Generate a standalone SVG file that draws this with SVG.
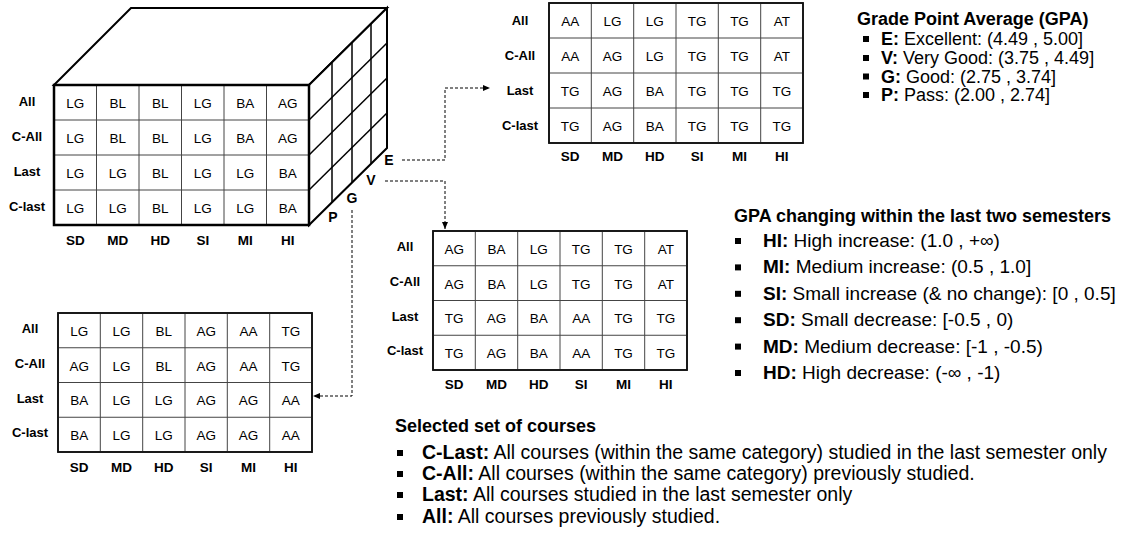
<svg xmlns="http://www.w3.org/2000/svg" width="1124" height="541" viewBox="0 0 1124 541">
<defs>
<marker id="arr" markerWidth="8" markerHeight="8" refX="7" refY="4" orient="auto" markerUnits="userSpaceOnUse">
<path d="M0,1 L7,4 L0,7 Z" fill="#000"/>
</marker>
<style>
text{font-family:"Liberation Sans",Arial,sans-serif;fill:#000}
.c{font-size:13.5px;text-anchor:middle}
.l{font-size:13px;font-weight:bold;text-anchor:middle}
.h{font-size:13.5px;font-weight:bold;text-anchor:middle}
.d{font-size:14px;font-weight:bold;text-anchor:middle}
.t{font-size:18px;font-weight:bold}
.i{font-size:19px}
.g{font-size:18px}
.s{font-size:19.5px}
.b{font-weight:bold}
.outer{fill:#fff;stroke:#111;stroke-width:1.6}
.inner{stroke:#444;stroke-width:1;fill:none}
.thick{fill:none;stroke:#000;stroke-width:2.5;stroke-linejoin:miter}
.face{fill:#fff;stroke:#000;stroke-width:2;stroke-linejoin:miter}
.rf{stroke:#000;stroke-width:1.5;fill:none}
.dash{fill:none;stroke:#000;stroke-width:1;stroke-dasharray:3,2}
.bul{fill:#000}
</style>
</defs>

<g id="cube">
<polygon class="face" points="54,85 131,8 387,8 309,85"/>
<polygon class="face" points="309,85 387,8 387,148 309,225"/>
<g class="rf">
<line x1="309" y1="120" x2="387" y2="43"/>
<line x1="309" y1="155" x2="387" y2="78"/>
<line x1="309" y1="190" x2="387" y2="113"/>
<line x1="332" y1="62.3" x2="332" y2="202.3"/>
<line x1="352" y1="42.6" x2="352" y2="182.6"/>
<line x1="371" y1="23.8" x2="371" y2="163.8"/>
</g>
<rect x="54" y="85" width="255" height="140" fill="#fff"/>
<g class="inner">
<line x1="96.5" y1="85" x2="96.5" y2="225"/><line x1="139" y1="85" x2="139" y2="225"/><line x1="181.5" y1="85" x2="181.5" y2="225"/><line x1="224" y1="85" x2="224" y2="225"/><line x1="266.5" y1="85" x2="266.5" y2="225"/>
<line x1="54" y1="120" x2="309" y2="120"/><line x1="54" y1="155" x2="309" y2="155"/><line x1="54" y1="190" x2="309" y2="190"/>
</g>
<rect class="thick" x="54" y="85" width="255" height="140"/>
<text class="l" x="27" y="106">All</text><text class="l" x="27" y="141">C-All</text><text class="l" x="27" y="176">Last</text><text class="l" x="27" y="211">C-last</text>
<text class="c" x="75.3" y="108">LG</text><text class="c" x="117.8" y="108">BL</text><text class="c" x="160.3" y="108">BL</text><text class="c" x="202.8" y="108">LG</text><text class="c" x="245.3" y="108">BA</text><text class="c" x="287.8" y="108">AG</text>
<text class="c" x="75.3" y="143">LG</text><text class="c" x="117.8" y="143">BL</text><text class="c" x="160.3" y="143">BL</text><text class="c" x="202.8" y="143">LG</text><text class="c" x="245.3" y="143">BA</text><text class="c" x="287.8" y="143">AG</text>
<text class="c" x="75.3" y="178">LG</text><text class="c" x="117.8" y="178">LG</text><text class="c" x="160.3" y="178">BL</text><text class="c" x="202.8" y="178">LG</text><text class="c" x="245.3" y="178">LG</text><text class="c" x="287.8" y="178">BA</text>
<text class="c" x="75.3" y="213">LG</text><text class="c" x="117.8" y="213">LG</text><text class="c" x="160.3" y="213">BL</text><text class="c" x="202.8" y="213">LG</text><text class="c" x="245.3" y="213">LG</text><text class="c" x="287.8" y="213">BA</text>
<text class="h" x="75.3" y="245">SD</text><text class="h" x="117.8" y="245">MD</text><text class="h" x="160.3" y="245">HD</text><text class="h" x="202.8" y="245">SI</text><text class="h" x="245.3" y="245">MI</text><text class="h" x="287.8" y="245">HI</text>
<text class="d" x="389" y="165">E</text><text class="d" x="371" y="185">V</text><text class="d" x="352" y="203">G</text><text class="d" x="333" y="222">P</text>
</g>

<g id="table-E">
<rect class="outer" x="549" y="3" width="254" height="140"/>
<g class="inner">
<line x1="591.3" y1="3" x2="591.3" y2="143"/><line x1="633.7" y1="3" x2="633.7" y2="143"/><line x1="676" y1="3" x2="676" y2="143"/><line x1="718.3" y1="3" x2="718.3" y2="143"/><line x1="760.7" y1="3" x2="760.7" y2="143"/>
<line x1="549" y1="38" x2="803" y2="38"/><line x1="549" y1="73" x2="803" y2="73"/><line x1="549" y1="108" x2="803" y2="108"/>
</g>
<rect x="549" y="3" width="254" height="140" fill="none" stroke="#111" stroke-width="1.6"/>
<text class="l" x="520" y="25">All</text><text class="l" x="520" y="60">C-All</text><text class="l" x="520" y="95">Last</text><text class="l" x="520" y="130">C-last</text>
<text class="c" x="570.2" y="26">AA</text><text class="c" x="612.5" y="26">LG</text><text class="c" x="654.8" y="26">LG</text><text class="c" x="697.2" y="26">TG</text><text class="c" x="739.5" y="26">TG</text><text class="c" x="781.8" y="26">AT</text>
<text class="c" x="570.2" y="61">AA</text><text class="c" x="612.5" y="61">AG</text><text class="c" x="654.8" y="61">LG</text><text class="c" x="697.2" y="61">TG</text><text class="c" x="739.5" y="61">TG</text><text class="c" x="781.8" y="61">AT</text>
<text class="c" x="570.2" y="96">TG</text><text class="c" x="612.5" y="96">AG</text><text class="c" x="654.8" y="96">BA</text><text class="c" x="697.2" y="96">TG</text><text class="c" x="739.5" y="96">TG</text><text class="c" x="781.8" y="96">TG</text>
<text class="c" x="570.2" y="131">TG</text><text class="c" x="612.5" y="131">AG</text><text class="c" x="654.8" y="131">BA</text><text class="c" x="697.2" y="131">TG</text><text class="c" x="739.5" y="131">TG</text><text class="c" x="781.8" y="131">TG</text>
<text class="h" x="570.2" y="161">SD</text><text class="h" x="612.5" y="161">MD</text><text class="h" x="654.8" y="161">HD</text><text class="h" x="697.2" y="161">SI</text><text class="h" x="739.5" y="161">MI</text><text class="h" x="781.8" y="161">HI</text>
</g>

<g id="table-V">
<rect class="outer" x="433" y="231" width="254" height="139"/>
<g class="inner">
<line x1="475.3" y1="231" x2="475.3" y2="370"/><line x1="517.7" y1="231" x2="517.7" y2="370"/><line x1="560" y1="231" x2="560" y2="370"/><line x1="602.3" y1="231" x2="602.3" y2="370"/><line x1="644.7" y1="231" x2="644.7" y2="370"/>
<line x1="433" y1="265.75" x2="687" y2="265.75"/><line x1="433" y1="300.5" x2="687" y2="300.5"/><line x1="433" y1="335.25" x2="687" y2="335.25"/>
</g>
<rect x="433" y="231" width="254" height="139" fill="none" stroke="#111" stroke-width="1.6"/>
<text class="l" x="405" y="251">All</text><text class="l" x="405" y="286">C-All</text><text class="l" x="405" y="321">Last</text><text class="l" x="405" y="355">C-last</text>
<text class="c" x="454.2" y="254">AG</text><text class="c" x="496.5" y="254">BA</text><text class="c" x="538.8" y="254">LG</text><text class="c" x="581.2" y="254">TG</text><text class="c" x="623.5" y="254">TG</text><text class="c" x="665.8" y="254">AT</text>
<text class="c" x="454.2" y="288.6">AG</text><text class="c" x="496.5" y="288.6">BA</text><text class="c" x="538.8" y="288.6">LG</text><text class="c" x="581.2" y="288.6">TG</text><text class="c" x="623.5" y="288.6">TG</text><text class="c" x="665.8" y="288.6">AT</text>
<text class="c" x="454.2" y="323.4">TG</text><text class="c" x="496.5" y="323.4">AG</text><text class="c" x="538.8" y="323.4">BA</text><text class="c" x="581.2" y="323.4">AA</text><text class="c" x="623.5" y="323.4">TG</text><text class="c" x="665.8" y="323.4">TG</text>
<text class="c" x="454.2" y="358.1">TG</text><text class="c" x="496.5" y="358.1">AG</text><text class="c" x="538.8" y="358.1">BA</text><text class="c" x="581.2" y="358.1">AA</text><text class="c" x="623.5" y="358.1">TG</text><text class="c" x="665.8" y="358.1">TG</text>
<text class="h" x="454.2" y="389">SD</text><text class="h" x="496.5" y="389">MD</text><text class="h" x="538.8" y="389">HD</text><text class="h" x="581.2" y="389">SI</text><text class="h" x="623.5" y="389">MI</text><text class="h" x="665.8" y="389">HI</text>
</g>

<g id="table-G">
<rect class="outer" x="58" y="313" width="254" height="139"/>
<g class="inner">
<line x1="100.3" y1="313" x2="100.3" y2="452"/><line x1="142.7" y1="313" x2="142.7" y2="452"/><line x1="185" y1="313" x2="185" y2="452"/><line x1="227.3" y1="313" x2="227.3" y2="452"/><line x1="269.7" y1="313" x2="269.7" y2="452"/>
<line x1="58" y1="347.75" x2="312" y2="347.75"/><line x1="58" y1="382.5" x2="312" y2="382.5"/><line x1="58" y1="417.25" x2="312" y2="417.25"/>
</g>
<rect x="58" y="313" width="254" height="139" fill="none" stroke="#111" stroke-width="1.6"/>
<text class="l" x="30" y="333">All</text><text class="l" x="30" y="368">C-All</text><text class="l" x="30" y="403">Last</text><text class="l" x="30" y="437">C-last</text>
<text class="c" x="79.2" y="336">LG</text><text class="c" x="121.5" y="336">LG</text><text class="c" x="163.8" y="336">BL</text><text class="c" x="206.2" y="336">AG</text><text class="c" x="248.5" y="336">AA</text><text class="c" x="290.8" y="336">TG</text>
<text class="c" x="79.2" y="370.6">AG</text><text class="c" x="121.5" y="370.6">LG</text><text class="c" x="163.8" y="370.6">BL</text><text class="c" x="206.2" y="370.6">AG</text><text class="c" x="248.5" y="370.6">AA</text><text class="c" x="290.8" y="370.6">TG</text>
<text class="c" x="79.2" y="405.4">BA</text><text class="c" x="121.5" y="405.4">LG</text><text class="c" x="163.8" y="405.4">LG</text><text class="c" x="206.2" y="405.4">AG</text><text class="c" x="248.5" y="405.4">AG</text><text class="c" x="290.8" y="405.4">AA</text>
<text class="c" x="79.2" y="440.1">BA</text><text class="c" x="121.5" y="440.1">LG</text><text class="c" x="163.8" y="440.1">LG</text><text class="c" x="206.2" y="440.1">AG</text><text class="c" x="248.5" y="440.1">AG</text><text class="c" x="290.8" y="440.1">AA</text>
<text class="h" x="79.2" y="472">SD</text><text class="h" x="121.5" y="472">MD</text><text class="h" x="163.8" y="472">HD</text><text class="h" x="206.2" y="472">SI</text><text class="h" x="248.5" y="472">MI</text><text class="h" x="290.8" y="472">HI</text>
</g>

<g id="connectors">
<path class="dash" d="M402,160 H445 V88 H490" marker-end="url(#arr)"/>
<path class="dash" d="M385,181 H445 V229" marker-end="url(#arr)"/>
<path class="dash" d="M352,210 V396 H313" marker-end="url(#arr)"/>
</g>

<g id="legend-gpa">
<text class="t" x="857" y="25">Grade Point Average (GPA)</text>
<rect class="bul" x="863" y="36" width="6" height="6"/>
<rect class="bul" x="863" y="55" width="6" height="6"/>
<rect class="bul" x="863" y="73.5" width="6" height="6"/>
<rect class="bul" x="863" y="92" width="6" height="6"/>
<text class="g" x="881" y="45"><tspan class="b">E:</tspan> Excellent: (4.49 , 5.00]</text>
<text class="g" x="881" y="64"><tspan class="b">V:</tspan> Very Good: (3.75 , 4.49]</text>
<text class="g" x="881" y="82.5"><tspan class="b">G:</tspan> Good: (2.75 , 3.74]</text>
<text class="g" x="881" y="101"><tspan class="b">P:</tspan> Pass: (2.00 , 2.74]</text>
</g>

<g id="legend-change">
<text class="t" x="734" y="222">GPA changing within the last two semesters</text>
<rect class="bul" x="735" y="238" width="6" height="6"/>
<rect class="bul" x="735" y="264.4" width="6" height="6"/>
<rect class="bul" x="735" y="290.8" width="6" height="6"/>
<rect class="bul" x="735" y="317.2" width="6" height="6"/>
<rect class="bul" x="735" y="343.6" width="6" height="6"/>
<rect class="bul" x="735" y="370" width="6" height="6"/>
<text class="i" x="763" y="247"><tspan class="b">HI:</tspan> High increase: (1.0 , +∞)</text>
<text class="i" x="763" y="273.4"><tspan class="b">MI:</tspan> Medium increase: (0.5 , 1.0]</text>
<text class="i" x="763" y="299.8"><tspan class="b">SI:</tspan> Small increase (&amp; no change): [0 , 0.5]</text>
<text class="i" x="763" y="326.2"><tspan class="b">SD:</tspan> Small decrease: [-0.5 , 0)</text>
<text class="i" x="763" y="352.6"><tspan class="b">MD:</tspan> Medium decrease: [-1 , -0.5)</text>
<text class="i" x="763" y="379"><tspan class="b">HD:</tspan> High decrease: (-∞ , -1)</text>
</g>

<g id="legend-courses">
<text class="t" x="395" y="432">Selected set of courses</text>
<rect class="bul" x="397" y="450" width="6" height="6"/>
<rect class="bul" x="397" y="471" width="6" height="6"/>
<rect class="bul" x="397" y="492" width="6" height="6"/>
<rect class="bul" x="397" y="514" width="6" height="6"/>
<text class="s" x="422" y="459"><tspan class="b">C-Last:</tspan> All courses (within the same category) studied in the last semester only</text>
<text class="s" x="422" y="480"><tspan class="b">C-All:</tspan> All courses (within the same category) previously studied.</text>
<text class="s" x="422" y="501"><tspan class="b">Last:</tspan> All courses studied in the last semester only</text>
<text class="s" x="422" y="523"><tspan class="b">All:</tspan> All courses previously studied.</text>
</g>
</svg>
